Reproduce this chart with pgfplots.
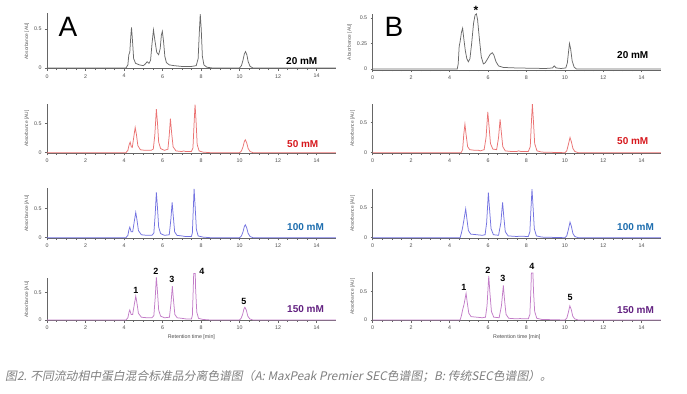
\documentclass[border=0pt]{standalone}
\usepackage{fontspec}
\setmainfont{Liberation Sans}
\newfontfamily\cjk[FakeSlant=0.2]{Noto Sans CJK SC}
\usepackage{pgfplots}
\pgfplotsset{compat=1.18}
\definecolor{trgray}{RGB}{105,105,105}
\definecolor{trred}{RGB}{235,115,115}
\definecolor{trblue}{RGB}{115,115,225}
\definecolor{trpurp}{RGB}{195,125,200}
\definecolor{lbred}{RGB}{215,25,30}
\definecolor{lbblue}{RGB}{30,110,175}
\definecolor{lbpurp}{RGB}{100,35,130}
\pgfplotsset{
  chrom/.style={
    scale only axis, anchor=origin, xmin=0, xmax=15, ymin=-0.01,
    axis x line=bottom, axis y line=left,
    axis line style={draw=black!60, line width=0.7pt, -},
    xtick={0,2,...,14}, minor x tick num=3,
    tick style={draw=black!60, line width=0.45pt},
    major tick length=2pt, minor tick length=1.3pt, tick align=outside,
    ticklabel style={font=\fontsize{5.3}{6}\selectfont, text=black!70},
    /pgf/number format/assume math mode=true,
    ylabel={Absorbance [AU]},
    ylabel style={font=\fontsize{4.8}{5}\selectfont, text=black!65, yshift=-2pt},
    clip=false,
  },
  colA/.style={width=288.8pt},
  colB/.style={width=288.2pt},
}
\begin{document}
\begin{tikzpicture}[x=1pt,y=1pt]
\path[use as bounding box, fill=white] (0,0) rectangle (687,393);

% ---------- Row 1 ----------
\begin{axis}[chrom, colA, at={(47pt,325pt)}, height=55.4pt, ymax=0.70, ytick={0,0.5}]
\addplot[trgray, line width=0.75pt] coordinates {
(0,0) (4.1,0) (4.2,0.04) (4.25,0.17) (4.3,0.2) (4.35,0.4) (4.39,0.52) (4.44,0.35) (4.5,0.12) (4.6,0.06) (4.8,0.04) (5.0,0.03) (5.1,0.05) (5.2,0.08) (5.3,0.06) (5.38,0.1) (5.45,0.3) (5.53,0.49) (5.6,0.36) (5.7,0.2) (5.8,0.17) (5.88,0.25) (5.94,0.42) (5.99,0.47) (6.05,0.35) (6.12,0.15) (6.2,0.07) (6.35,0.04) (6.6,0.03) (7.0,0.02) (7.5,0.02) (7.75,0.03) (7.85,0.12) (7.91,0.45) (7.96,0.69) (8.01,0.5) (8.07,0.15) (8.15,0.04) (8.3,0.01) (8.6,0) (10.0,0) (10.1,0.03) (10.18,0.1) (10.25,0.18) (10.31,0.21) (10.38,0.17) (10.45,0.08) (10.55,0.02) (10.7,0) (15,0)};
\end{axis}
\begin{axis}[chrom, colB, at={(372.7pt,324pt)}, height=56.1pt, ymax=0.54, ytick={0,0.25,0.5}]
\addplot[trgray, line width=0.75pt] coordinates {
(0,0) (4.4,0) (4.45,0.05) (4.5,0.22) (4.55,0.27) (4.62,0.36) (4.68,0.40) (4.74,0.3) (4.82,0.18) (4.9,0.1) (4.98,0.07) (5.06,0.1) (5.15,0.25) (5.25,0.45) (5.33,0.53) (5.4,0.54) (5.46,0.48) (5.55,0.3) (5.65,0.12) (5.76,0.05) (5.85,0.06) (5.95,0.09) (6.1,0.14) (6.22,0.16) (6.3,0.14) (6.42,0.07) (6.55,0.03) (6.8,0.015) (7.5,0.01) (9.0,0.005) (9.35,0.01) (9.45,0.03) (9.55,0.01) (9.8,0.005) (10.05,0.01) (10.13,0.06) (10.2,0.18) (10.24,0.25) (10.3,0.2) (10.38,0.08) (10.48,0.02) (10.6,0) (15,0)};
\node[font=\bfseries\fontsize{12}{12}\selectfont] at (axis cs:5.38,0.575) {*};
\end{axis}

% ---------- Row 2 ----------
\begin{axis}[chrom, colA, at={(47pt,240.3pt)}, height=49.3pt, ymax=0.83, ytick={0,0.5}]
\addplot[trred, line width=0.75pt] coordinates {
(0,0) (4.1,0) (4.2,0.04) (4.27,0.14) (4.32,0.18) (4.38,0.1) (4.43,0.09) (4.5,0.25) (4.58,0.43) (4.64,0.32) (4.72,0.12) (4.85,0.05) (5.1,0.04) (5.4,0.04) (5.52,0.06) (5.6,0.3) (5.68,0.74) (5.74,0.5) (5.8,0.18) (5.9,0.07) (6.1,0.04) (6.28,0.06) (6.35,0.3) (6.41,0.58) (6.47,0.35) (6.55,0.1) (6.7,0.03) (7.0,0.02) (7.1,0.03) (7.2,0.02) (7.5,0.02) (7.58,0.08) (7.64,0.5) (7.69,0.82) (7.74,0.55) (7.8,0.14) (7.9,0.03) (8.1,0.01) (8.5,0) (10.0,0) (10.1,0.03) (10.18,0.1) (10.25,0.19) (10.3,0.22) (10.37,0.17) (10.45,0.07) (10.55,0.02) (10.7,0) (15,0)};
\end{axis}
\begin{axis}[chrom, colB, at={(372.7pt,240.3pt)}, height=49.2pt, ymax=0.80, ytick={0,0.5}]
\addplot[trred, line width=0.75pt] coordinates {
(0,0) (4.6,0) (4.68,0.05) (4.74,0.3) (4.8,0.47) (4.86,0.3) (4.94,0.1) (5.05,0.05) (5.3,0.04) (5.5,0.04) (5.6,0.03) (5.8,0.05) (5.9,0.25) (5.99,0.67) (6.05,0.45) (6.13,0.15) (6.25,0.06) (6.45,0.05) (6.55,0.25) (6.63,0.55) (6.69,0.35) (6.77,0.1) (6.9,0.03) (7.2,0.02) (7.5,0.02) (7.6,0.03) (7.7,0.02) (8.1,0.02) (8.2,0.1) (8.26,0.5) (8.31,0.8) (8.36,0.55) (8.43,0.15) (8.55,0.03) (8.8,0.01) (10.0,0) (10.1,0.03) (10.18,0.13) (10.27,0.25) (10.34,0.18) (10.42,0.07) (10.52,0.02) (10.7,0) (15,0)};
\end{axis}

% ---------- Row 3 ----------
\begin{axis}[chrom, colA, at={(47pt,155.3pt)}, height=50pt, ymax=0.84, ytick={0,0.5}]
\addplot[trblue, line width=0.75pt] coordinates {
(0,0) (4.1,0) (4.2,0.04) (4.26,0.14) (4.3,0.18) (4.37,0.1) (4.45,0.1) (4.53,0.27) (4.61,0.43) (4.67,0.31) (4.75,0.12) (4.9,0.05) (5.2,0.04) (5.45,0.04) (5.55,0.08) (5.62,0.4) (5.68,0.77) (5.74,0.5) (5.8,0.18) (5.9,0.07) (6.1,0.04) (6.35,0.05) (6.43,0.3) (6.5,0.6) (6.56,0.36) (6.63,0.1) (6.75,0.04) (7.0,0.03) (7.2,0.02) (7.5,0.02) (7.55,0.08) (7.6,0.5) (7.64,0.83) (7.69,0.55) (7.76,0.14) (7.85,0.03) (8.1,0.01) (8.5,0) (10.0,0) (10.1,0.03) (10.18,0.1) (10.25,0.19) (10.3,0.22) (10.37,0.17) (10.45,0.07) (10.55,0.02) (10.7,0) (15,0)};
\end{axis}
\begin{axis}[chrom, colB, at={(372.7pt,155.3pt)}, height=49.2pt, ymax=0.81, ytick={0,0.5}]
\addplot[trblue, line width=0.75pt] coordinates {
(0,0) (4.55,0) (4.62,0.08) (4.68,0.17) (4.74,0.28) (4.84,0.48) (4.9,0.32) (4.98,0.12) (5.1,0.06) (5.4,0.05) (5.7,0.04) (5.85,0.05) (5.93,0.25) (6.02,0.75) (6.08,0.48) (6.16,0.15) (6.28,0.05) (6.55,0.04) (6.67,0.25) (6.76,0.59) (6.82,0.36) (6.9,0.1) (7.05,0.03) (7.5,0.02) (7.65,0.025) (8.1,0.02) (8.18,0.1) (8.24,0.5) (8.29,0.81) (8.34,0.55) (8.41,0.15) (8.52,0.03) (8.8,0.01) (10.0,0) (10.1,0.03) (10.18,0.13) (10.27,0.26) (10.34,0.19) (10.42,0.07) (10.52,0.02) (10.7,0) (15,0)};
\end{axis}

% ---------- Row 4 ----------
\begin{axis}[chrom, colA, at={(47pt,73pt)}, height=42.7pt, ymax=0.76, ytick={0,0.5},
  xlabel={Retention time [min]}, xlabel style={font=\fontsize{5.3}{6}\selectfont, text=black!70, yshift=2pt}]
\addplot[trpurp, line width=0.75pt] coordinates {
(0,0) (4.1,0) (4.2,0.04) (4.26,0.14) (4.3,0.18) (4.37,0.1) (4.45,0.1) (4.53,0.27) (4.61,0.43) (4.67,0.31) (4.75,0.12) (4.9,0.05) (5.2,0.04) (5.45,0.04) (5.55,0.08) (5.62,0.4) (5.68,0.77) (5.74,0.5) (5.8,0.18) (5.9,0.07) (6.1,0.04) (6.36,0.05) (6.44,0.3) (6.51,0.61) (6.57,0.36) (6.64,0.1) (6.76,0.04) (7.0,0.03) (7.2,0.02) (7.5,0.02) (7.55,0.08) (7.59,0.5) (7.62,0.84) (7.7,0.84) (7.72,0.55) (7.78,0.14) (7.87,0.03) (8.1,0.01) (8.5,0) (10.0,0) (10.08,0.03) (10.16,0.1) (10.23,0.2) (10.28,0.23) (10.35,0.18) (10.43,0.07) (10.53,0.02) (10.7,0) (15,0)};
\node[font=\bfseries\fontsize{9}{9}\selectfont] at (axis cs:4.62,0.54) {1};
\node[font=\bfseries\fontsize{9}{9}\selectfont] at (axis cs:5.66,0.88) {2};
\node[font=\bfseries\fontsize{9}{9}\selectfont] at (axis cs:6.49,0.74) {3};
\node[font=\bfseries\fontsize{9}{9}\selectfont] at (axis cs:8.05,0.87) {4};
\node[font=\bfseries\fontsize{9}{9}\selectfont] at (axis cs:10.23,0.34) {5};
\end{axis}
\begin{axis}[chrom, colB, at={(372.7pt,73pt)}, height=48.1pt, ymax=0.84, ytick={0,0.5},
  xlabel={Retention time [min]}, xlabel style={font=\fontsize{5.3}{6}\selectfont, text=black!70, yshift=2pt}]
\addplot[trpurp, line width=0.75pt] coordinates {
(0,0) (4.55,0) (4.62,0.08) (4.68,0.18) (4.75,0.27) (4.86,0.47) (4.92,0.31) (5.0,0.12) (5.12,0.06) (5.4,0.05) (5.7,0.04) (5.87,0.05) (5.95,0.25) (6.04,0.78) (6.1,0.48) (6.18,0.15) (6.3,0.05) (6.58,0.04) (6.7,0.25) (6.8,0.61) (6.86,0.36) (6.94,0.1) (7.08,0.03) (7.5,0.02) (7.65,0.025) (8.1,0.02) (8.18,0.1) (8.23,0.5) (8.26,0.83) (8.34,0.83) (8.37,0.5) (8.43,0.15) (8.54,0.03) (8.8,0.01) (10.0,0) (10.1,0.03) (10.18,0.13) (10.26,0.25) (10.33,0.19) (10.41,0.07) (10.51,0.02) (10.7,0) (15,0)};
\node[font=\bfseries\fontsize{9}{9}\selectfont] at (axis cs:4.75,0.58) {1};
\node[font=\bfseries\fontsize{9}{9}\selectfont] at (axis cs:6.0,0.88) {2};
\node[font=\bfseries\fontsize{9}{9}\selectfont] at (axis cs:6.78,0.74) {3};
\node[font=\bfseries\fontsize{9}{9}\selectfont] at (axis cs:8.29,0.94) {4};
\node[font=\bfseries\fontsize{9}{9}\selectfont] at (axis cs:10.27,0.39) {5};
\end{axis}

% ---------- labels ----------
\node[anchor=center, font=\fontsize{28}{28}\selectfont] at (68,366) {A};
\node[anchor=center, font=\fontsize{28}{28}\selectfont] at (394,366) {B};
\node[anchor=west, font=\bfseries\fontsize{10}{10}\selectfont, inner sep=0pt] at (286,332) {20 mM};
\node[anchor=west, font=\bfseries\fontsize{10}{10}\selectfont, inner sep=0pt] at (617,338) {20 mM};
\node[anchor=west, font=\bfseries\fontsize{10}{10}\selectfont, inner sep=0pt, text=lbred] at (287,249) {50 mM};
\node[anchor=west, font=\bfseries\fontsize{10}{10}\selectfont, inner sep=0pt, text=lbred] at (617,252) {50 mM};
\node[anchor=west, font=\bfseries\fontsize{10}{10}\selectfont, inner sep=0pt, text=lbblue] at (287,166) {100 mM};
\node[anchor=west, font=\bfseries\fontsize{10}{10}\selectfont, inner sep=0pt, text=lbblue] at (617,166) {100 mM};
\node[anchor=west, font=\bfseries\fontsize{10}{10}\selectfont, inner sep=0pt, text=lbpurp] at (287,84) {150 mM};
\node[anchor=west, font=\bfseries\fontsize{10}{10}\selectfont, inner sep=0pt, text=lbpurp] at (617,83) {150 mM};

% ---------- caption ----------
\node[anchor=west, inner sep=0pt, text=black!50, font=\cjk\fontsize{11.8}{12}\selectfont] at (5,17) {图2. 不同流动相中蛋白混合标准品分离色谱图（A: MaxPeak Premier SEC色谱图；B: 传统SEC色谱图）。};
\end{tikzpicture}
\end{document}
